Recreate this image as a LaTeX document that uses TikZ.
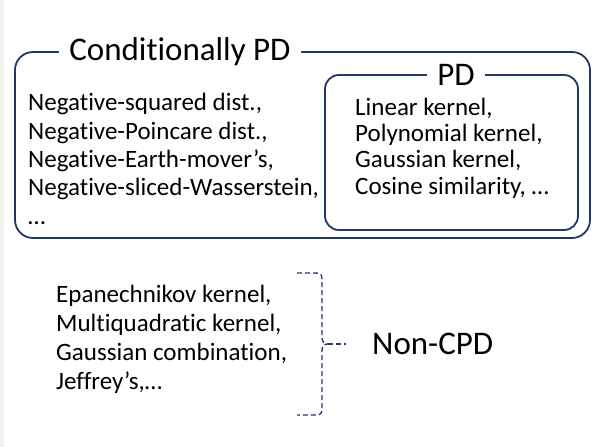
\documentclass[tikz,border=0pt]{standalone}
\usepackage{fontspec}
\setmainfont{Carlito}[Ligatures=NoCommon]
\definecolor{navy}{HTML}{1F3864}
\definecolor{bggray}{HTML}{F2F2F2}
\begin{document}
\begin{tikzpicture}[x=1bp,y=-1bp,
  boxline/.style={draw=navy,line width=1.8bp},
  titletext/.style={fill=white,inner xsep=10bp,inner ysep=2bp,font=\fontsize{33bp}{36bp}\selectfont,text=black},
  listtext/.style={anchor=west,align=left,inner sep=0pt,text=black},
  bracestyle/.style={draw=navy,line width=1.3bp,dash pattern=on 5bp off 3bp}]
\useasboundingbox (0,0) rectangle (595,447);
\fill[bggray] (0,0) rectangle (595,447);
\fill[white] (4,0) rectangle (595,447);
% outer box
\draw[boxline,rounded corners=18bp] (15,52) rectangle (590,238);
\node[titletext] (cpdtitle) at (180,52) {Conditionally PD};
\node[listtext,font=\fontsize{25bp}{28.3bp}\selectfont] (cpdlist) at (28,159)
  {Negative-squared dist.,\\Negative-Poincare dist.,\\Negative-Earth-mover’s,\\Negative-sliced-Wasserstein,\\…};
% inner box
\draw[boxline,rounded corners=14bp] (325,75) rectangle (578,230);
\node[titletext] (pdtitle) at (456,75) {PD};
\node[listtext,font=\fontsize{25bp}{26.3bp}\selectfont] (pdlist) at (355,148)
  {Linear kernel,\\Polynomial kernel,\\Gaussian kernel,\\Cosine similarity, …};
% non-CPD
\node[listtext,font=\fontsize{25bp}{29bp}\selectfont] (ncpdlist) at (56,339)
  {Epanechnikov kernel,\\Multiquadratic kernel,\\Gaussian combination,\\Jeffrey’s,…};
\node[anchor=west,inner sep=0pt,font=\fontsize{33bp}{36bp}\selectfont] (ncpd) at (372,344) {Non-CPD};
\coordinate (btop) at (297,273);
\coordinate (bbot) at (297,415);
\coordinate (btip) at (328,344);
\coordinate (tailend) at (346,344);
\draw[bracestyle] (btop) -- (316,273) .. controls (321,273) and (322,275) .. (322,280)
  -- (322,337) .. controls (322,342) and (324,344) .. (btip)
  .. controls (324,344) and (322,346) .. (322,351)
  -- (322,408) .. controls (322,413) and (321,415) .. (316,415) -- (bbot);
\draw[bracestyle] (btip) -- (tailend);
\end{tikzpicture}
\end{document}
